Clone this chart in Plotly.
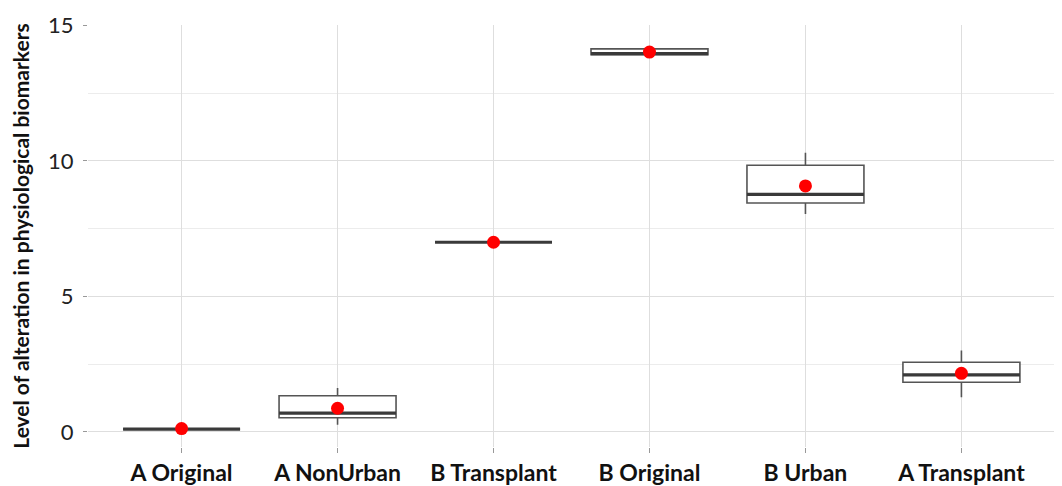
import plotly.graph_objects as go

categories = ["A Original", "A NonUrban", "B Transplant", "B Original", "B Urban", "A Transplant"]
q1 = [0.10, 0.52, 7.0, 13.92, 8.45, 1.83]
median = [0.10, 0.69, 7.0, 13.96, 8.77, 2.10]
q3 = [0.10, 1.33, 7.0, 14.14, 9.84, 2.57]
lower = [0.10, 0.26, 7.0, 13.85, 8.04, 1.28]
upper = [0.10, 1.62, 7.0, 14.14, 10.30, 3.00]
means = [0.12, 0.87, 7.0, 14.02, 9.08, 2.16]

box_col = "#555555"
font_fam = "Lato, 'Open Sans', sans-serif"

fig = go.Figure()
fig.add_trace(go.Box(
    x=categories, q1=q1, median=median, q3=q3,
    lowerfence=lower, upperfence=upper,
    fillcolor="white", line=dict(color=box_col, width=1.6),
    width=0.75, boxpoints=False, whiskerwidth=0, hoverinfo="skip",
    showlegend=False,
))
# thick median line
fig.add_trace(go.Box(
    x=categories, q1=median, median=median, q3=median,
    lowerfence=median, upperfence=median,
    fillcolor="rgba(0,0,0,0)", line=dict(color="#3a3a3a", width=3.2),
    width=0.75, boxpoints=False, whiskerwidth=0, hoverinfo="skip",
    showlegend=False,
))
fig.add_trace(go.Scatter(
    x=categories, y=means, mode="markers",
    marker=dict(color="#ff0000", size=13), showlegend=False,
))

fig.update_layout(
    width=1054, height=478,
    margin=dict(l=80, r=7, t=17, b=39),
    plot_bgcolor="white", paper_bgcolor="white",
    boxmode="overlay",
    font=dict(family=font_fam, color="#222222"),
)
fig.update_xaxes(
    range=[-0.6, 5.6], showgrid=True, gridcolor="#dedede", gridwidth=1.3,
    ticks="outside", ticklen=5, tickcolor="#999999", tickwidth=1.2,
    tickfont=dict(size=23, color="#111111", family=font_fam, weight="bold"),
    zeroline=False, showline=False, automargin=False,
)
fig.update_yaxes(
    range=[-0.56, 15.02], tickvals=[0, 5, 10, 15], ticktext=["0", "5", "10", "15"],
    showgrid=True, gridcolor="#dedede", gridwidth=1.3,
    minor=dict(tickvals=[2.5, 7.5, 12.5], showgrid=True, gridcolor="#ececec", gridwidth=1.2, ticks=""),
    ticks="outside", ticklen=4, tickcolor="#999999", tickwidth=1.2,
    ticklabelstandoff=5,
    tickfont=dict(size=22, color="#222222", family=font_fam),
    zeroline=False, showline=False, automargin=False,
    title=dict(text="Level of alteration in physiological biomarkers",
               font=dict(size=21, color="#111111", family=font_fam, weight="bold"),
               standoff=14),
)

fig.write_html("out.html")
